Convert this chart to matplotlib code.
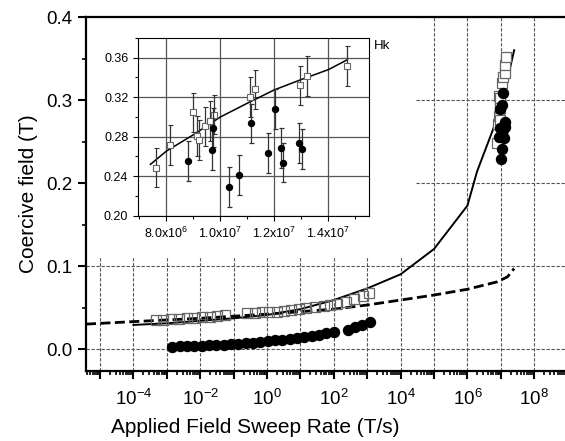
import matplotlib
matplotlib.use('Agg')
import matplotlib.pyplot as plt
import numpy as np
from matplotlib.ticker import LogLocator, FuncFormatter, MultipleLocator, FixedLocator
from matplotlib.patches import Rectangle

plt.rcParams['font.family'] = ['Liberation Sans', 'DejaVu Sans']
plt.rcParams['mathtext.fontset'] = 'custom'
plt.rcParams['mathtext.rm'] = 'Liberation Sans'
plt.rcParams['mathtext.it'] = 'Liberation Sans:italic'
plt.rcParams['mathtext.bf'] = 'Liberation Sans:bold'

# ---------------- data ----------------
# high-field (pulsed) data, shown in inset and in main plot
hf_sq_x = [7.63e6, 8.14e6, 8.98e6, 9.14e6, 9.21e6, 9.43e6, 9.62e6, 9.77e6, 1.109e7, 1.128e7, 1.294e7, 1.320e7, 1.470e7]
hf_sq_y = [0.2486, 0.2714, 0.3047, 0.2805, 0.2765, 0.2906, 0.2960, 0.3023, 0.3200, 0.3280, 0.3320, 0.3416, 0.3516]
hf_sq_err = [0.02, 0.02, 0.02, 0.02, 0.02, 0.02, 0.02, 0.02, 0.02, 0.02, 0.02, 0.02, 0.02]

hf_ci_x = [8.79e6, 9.69e6, 9.74e6, 1.031e7, 1.069e7, 1.115e7, 1.178e7, 1.2025e7, 1.2247e7, 1.233e7, 1.2926e7, 1.301e7]
hf_ci_y = [0.2553, 0.2664, 0.2892, 0.2292, 0.2413, 0.2936, 0.2637, 0.3080, 0.2688, 0.2537, 0.2735, 0.2678]
hf_ci_err = [0.02, 0.02, 0.02, 0.02, 0.02, 0.02, 0.02, 0.02, 0.02, 0.02, 0.02, 0.02]

# inset fit curve (Hk)
inset_fit_x = [7.41e6, 8.0e6, 9.0e6, 1.0e7, 1.1e7, 1.2e7, 1.3e7, 1.4e7, 1.47e7]
inset_fit_y = [0.252, 0.2654, 0.282, 0.300, 0.314, 0.3275, 0.338, 0.348, 0.358]

# low sweep-rate data (log10 of sweep rate)
sq_logx = [-3.33, -3.10, -2.87, -2.64, -2.41, -2.18, -1.95, -1.72, -1.49, -1.26,
           -0.59, -0.37, -0.15, 0.07, 0.29, 0.51, 0.73, 0.95, 1.16, 1.45, 1.70, 1.90,
           2.10, 2.36, 2.60, 2.86, 3.05]
sq_y = [0.0350, 0.0355, 0.0360, 0.0365, 0.0370, 0.0375, 0.0385, 0.0390, 0.0400, 0.0405,
        0.0430, 0.0435, 0.0440, 0.0445, 0.0450, 0.0460, 0.0470, 0.0480, 0.0500, 0.0506, 0.0520, 0.0530,
        0.0540, 0.0570, 0.0600, 0.0640, 0.0680]

ci_logx = [-2.84, -2.62, -2.40, -2.18, -1.96, -1.74, -1.52, -1.30, -1.08, -0.86, -0.64, -0.42,
           -0.20, 0.02, 0.24, 0.46, 0.68, 0.90, 1.12, 1.34, 1.56, 1.78, 2.00,
           2.41, 2.63, 2.85, 3.07]
ci_y = [0.0030, 0.0032, 0.0035, 0.0038, 0.0041, 0.0044, 0.0048, 0.0053, 0.0058, 0.0063, 0.0070, 0.0077,
        0.0085, 0.0094, 0.0104, 0.0112, 0.0122, 0.0133, 0.0145, 0.0158, 0.0172, 0.0188, 0.0210,
        0.0225, 0.0260, 0.0290, 0.0320]

# model curves in main plot (log10 of sweep rate)
solid_logx = [-4, -3, -2, -1, 0, 1, 2, 3, 4, 5, 6, 6.29, 6.8, 7.1, 7.4]
solid_y = [0.029, 0.031, 0.034, 0.037, 0.041, 0.048, 0.059, 0.073, 0.090, 0.1205, 0.1727, 0.214, 0.268, 0.308, 0.360]

dash_logx = [-5.42, -4, -2, 0, 2, 3, 4, 5, 6, 6.9, 7.2, 7.4]
dash_y = [0.030, 0.033, 0.037, 0.042, 0.048, 0.053, 0.059, 0.065, 0.072, 0.081, 0.087, 0.097]

# ---------------- figure ----------------
fig = plt.figure(figsize=(5.65, 4.41), dpi=100)
ax = fig.add_axes([86/565, 70/441, 481.6/565, 354/441])
ax.set_xscale('log')
ax.set_xlim(10**-5.42, 1e9)
ax.set_ylim(-0.0265, 0.4)

ax.set_axisbelow(True)
ax.grid(True, which='major', color='#555555', ls=(0, (3, 1.5)), lw=0.8)
# white area behind inset
ax.add_patch(Rectangle((10**-5.42, 0.111), 10**4.42 - 10**-5.42, 0.4 - 0.111,
                       facecolor='white', edgecolor='none', zorder=1))

ax.plot(10**np.array(solid_logx), solid_y, color='k', lw=1.4, zorder=3)
ax.plot(10**np.array(dash_logx), dash_y, color='k', lw=2.0, dashes=(3.6, 1.6), zorder=3)
ax.plot(10**np.array(sq_logx), sq_y, 's', ls='none', ms=6.5, mfc='none', mec='#666666', mew=0.9, zorder=4)
ax.plot(hf_sq_x, hf_sq_y, 's', ls='none', ms=6.5, mfc='white', mec='#666666', mew=0.9, zorder=4)
ax.plot(10**np.array(ci_logx), ci_y, 'o', ls='none', ms=7.2, color='k', zorder=5)
ax.plot(hf_ci_x, hf_ci_y, 'o', ls='none', ms=7.2, color='k', zorder=5)

ax.xaxis.set_major_locator(LogLocator(base=10, numticks=40))
ax.xaxis.set_minor_locator(LogLocator(base=10, subs=np.arange(2, 10), numticks=40))
def xfmt(v, p):
    e = int(round(np.log10(v)))
    return r'$\mathregular{10^{%d}}$' % e if e % 2 == 0 else ''
ax.xaxis.set_major_formatter(FuncFormatter(xfmt))
ax.yaxis.set_major_locator(MultipleLocator(0.1))
ax.yaxis.set_minor_locator(MultipleLocator(0.05))
ax.yaxis.set_major_formatter(FuncFormatter(lambda v, p: '%.1f' % v))
ax.tick_params(which='major', direction='out', length=6, width=1.5, labelsize=13.5, top=False, right=False)
ax.tick_params(axis='x', which='major', pad=7)
ax.tick_params(which='minor', direction='out', length=3, width=1.2, top=False, right=False)
for s in ['left', 'bottom', 'top']:
    ax.spines[s].set_linewidth(1.6)
ax.spines['right'].set_visible(False)

ax.set_ylabel('Coercive field (T)', fontsize=15, labelpad=6)
ax.set_xlabel('Applied Field Sweep Rate (T/s)', fontsize=15)
ax.xaxis.set_label_coords((255 - 86) / 481.6, -0.132)

# ---------------- inset ----------------
axin = fig.add_axes([138/565, (441 - 215.7)/441, 231/565, 177.7/441])
axin.set_xlim(6.95e6, 1.55e7)
axin.set_ylim(0.20, 0.38)
axin.set_axisbelow(True)
axin.grid(True, which='major', color='#555555', lw=0.9)
axin.plot(inset_fit_x, inset_fit_y, color='k', lw=1.1, zorder=3)
axin.errorbar(hf_sq_x, hf_sq_y, yerr=hf_sq_err, fmt='s', ms=3.8, mfc='white', mec='#666666', mew=0.8,
              ecolor='#333333', elinewidth=0.9, capsize=1.8, capthick=0.9, zorder=4)
axin.errorbar(hf_ci_x, hf_ci_y, yerr=hf_ci_err, fmt='o', ms=4.3, color='k',
              ecolor='#333333', elinewidth=0.9, capsize=1.8, capthick=0.9, zorder=5)
axin.xaxis.set_major_locator(FixedLocator([8e6, 1.0e7, 1.2e7, 1.4e7]))
axin.xaxis.set_minor_locator(FixedLocator([7e6, 9e6, 1.1e7, 1.3e7, 1.5e7]))
def ixfmt(v, p):
    e = int(np.floor(np.log10(v)))
    return r'%.1fx10$^{%d}$' % (v / 10**e, e)
axin.xaxis.set_major_formatter(FuncFormatter(ixfmt))
axin.yaxis.set_major_locator(MultipleLocator(0.04))
axin.yaxis.set_minor_locator(MultipleLocator(0.02))
axin.yaxis.set_major_formatter(FuncFormatter(lambda v, p: '%.2f' % v))
axin.tick_params(which='major', direction='out', length=3.5, width=0.8, labelsize=9, top=False, right=False)
axin.tick_params(which='minor', direction='out', length=2, width=0.8, top=False, right=False)
for s in axin.spines.values():
    s.set_linewidth(0.8)

fig.text(374/565, 1 - 46/441, 'Hk', fontsize=9.5, ha='left', va='center')

fig.savefig('out.png', dpi=100)
